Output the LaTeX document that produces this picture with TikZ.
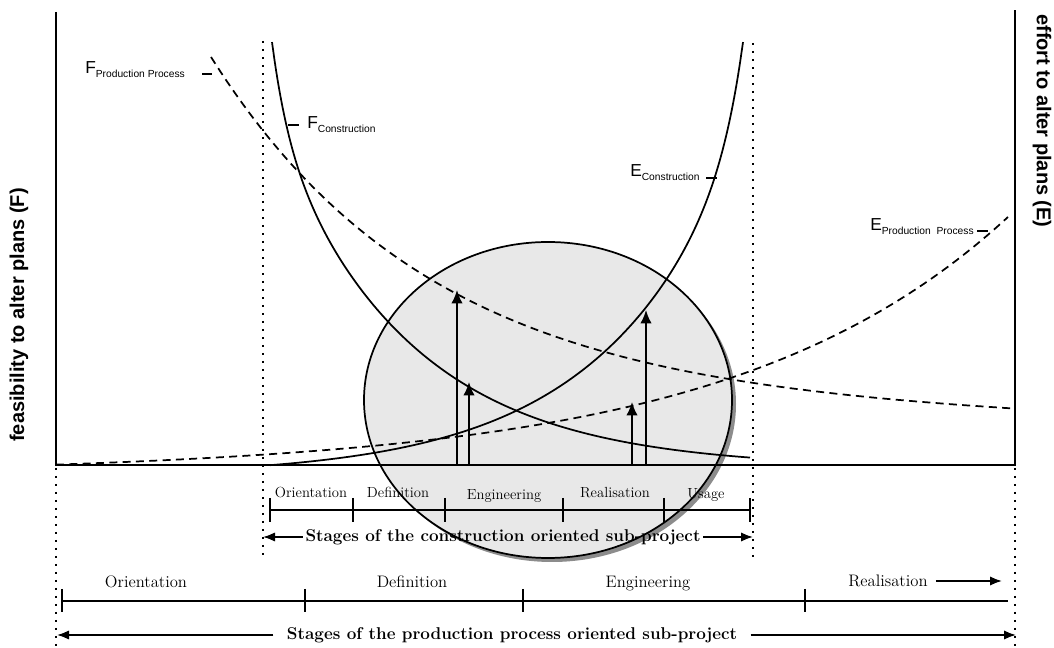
\documentclass[tikz,border=0pt]{standalone}
\usepackage{fontspec}
\newfontfamily\arialfont{Liberation Sans}
\usetikzlibrary{arrows.meta}
\newcommand\curvelabel[2]{{\fontsize{13}{14}\selectfont #1}\raisebox{-2.8pt}{\fontsize{7.7}{9}\selectfont #2}}
\tikzset{
 axisline/.style={line width=1.5pt},
 solidcurve/.style={line width=1.3pt},
 dashcurve/.style={line width=1.3pt, dash pattern=on 6pt off 4pt},
 dotline/.style={line width=1.6pt, dash pattern=on 1.6pt off 4.4pt},
 scaleline/.style={line width=1.5pt},
 tickmark/.style={line width=1.5pt},
 uparrow/.style={line width=1.3pt, -{Latex[length=10pt,width=8.5pt]}},
 stagearrow/.style={line width=1.3pt, -{Latex[length=9pt,width=7pt]}},
 leader/.style={line width=1.3pt},
 cstage/.style={inner sep=0pt, anchor=base, font=\fontsize{11}{13}\selectfont},
 pstage/.style={inner sep=0pt, anchor=base, font=\fontsize{12.5}{14}\selectfont\addfontfeature{LetterSpace=8}},
 btitle/.style={inner sep=2pt, font=\bfseries\fontsize{12.8}{15}\selectfont},
 axlab/.style={inner sep=0pt, font=\arialfont\bfseries\fontsize{15}{17}\selectfont},
 clab/.style={inner sep=0pt, anchor=base west, font=\arialfont},
}
\definecolor{ellfill}{RGB}{232,232,232}
\definecolor{shadowgray}{RGB}{140,140,140}
\begin{document}
\begin{tikzpicture}[x=0.75pt,y=-0.75pt]
\useasboundingbox (0,0) rectangle (1054,648);
% ellipse background
\fill[shadowgray] (552,404) ellipse [x radius=138pt, y radius=118.5pt];
\fill[ellfill] (548,400) ellipse [x radius=138pt, y radius=118.5pt];
% axes
\draw[axisline] (56,12) -- (56,465) -- (1015,465) -- (1015,10);
% dotted lines
\draw[dotline] (263,41) -- (263,560);
\draw[dotline] (753,43) -- (753,560);
\draw[dotline] (56,468) -- (56,648);
\draw[dotline] (1015,468) -- (1015,648);
% curves
\draw[solidcurve] plot[domain=272:750, samples=140, smooth] (\x, {465-(193*exp(-0.0073*(\x-350)) + 85*exp(-0.06*(\x-272)) - 3)});
\draw[solidcurve] plot[domain=270:743, samples=140, smooth] (\x, {465-(193*exp(0.0073*(\x-665)) + 93*exp(0.052*(\x-743)) - 11)});
\draw[dashcurve] plot[domain=211:1013, samples=140, smooth] (\x, {465-(353*exp(-0.0045*(\x-211)) + 55 - 8*((\x-211)/802)^2)});
\draw[dashcurve] plot[domain=56:1008, samples=140, smooth] (\x, {465-(248*exp(0.0037*(\x-1008)) - 7*(1008-\x)/952)});
% vertical arrows
\draw[uparrow] (457,465) -- (457,290);
\draw[uparrow] (469,465) -- (469,382);
\draw[uparrow] (632,465) -- (632,402);
\draw[uparrow] (646,465) -- (646,310);
% curve labels
\node[clab] (lfpp) at (85,73.5) {\curvelabel{F}{Production Process}};
\draw[leader] (202,74) -- (212,74);
\node[clab] (lfc) at (307,129) {\curvelabel{F}{Construction}};
\draw[leader] (288,125) -- (299,125);
\node[clab] (lec) at (630,177) {\curvelabel{E}{Construction}};
\draw[leader] (706,178) -- (717,178);
\node[clab] (lepp) at (870,231) {\curvelabel{E}{Production\ \ Process}};
\draw[leader] (977,231) -- (988,231);
% axis labels
\node[axlab, rotate=90] (fl) at (19,315) {feasibility to alter plans (F)};
\node[axlab, rotate=-90] (el) at (1042,121) {effort to alter plans (E)};
% construction stages
\draw[scaleline] (270,510) -- (750,510);
\foreach \x in {270,353,445,563,664,750} \draw[tickmark] (\x,498) -- (\x,522);
\node[cstage] (co) at (311,498) {Orientation};
\node[cstage] (cd) at (398,498) {Definition};
\node[cstage] (ce) at (504,500) {Engineering};
\node[cstage] (cr) at (615,498) {Realisation};
\node[cstage] (cu) at (706,499) {Usage};
\node[btitle] (ct) at (503,537) {Stages of the construction oriented sub-project};
\coordinate (ctl) at (263,537);
\coordinate (ctr) at (753,537);
\draw[stagearrow] (ct.west) -- (ct.west -| ctl);
\draw[stagearrow] (ct.east) -- (ct.east -| ctr);
% production stages
\draw[scaleline] (62,601) -- (1008,601);
\foreach \x in {62,305,523,805} \draw[tickmark] (\x,589) -- (\x,612);
\node[pstage] (po) at (146,588) {Orientation};
\node[pstage] (pd) at (412,588) {Definition};
\node[pstage] (pe) at (648,588) {Engineering};
\node[pstage] (pr) at (888,587) {Realisation};
\coordinate (prend) at (1002,581);
\draw[stagearrow] ([xshift=6pt]pr.east |- prend) -- (prend);
\node[btitle] (pt) at (512,635) {Stages of the production process oriented sub-project};
\coordinate (ptl) at (57,635);
\coordinate (ptr) at (1016,635);
\draw[stagearrow] ([xshift=-8pt]pt.west) -- (pt.west -| ptl);
\draw[stagearrow] ([xshift=8pt]pt.east) -- (pt.east -| ptr);
% ellipse outline
\draw[line width=1.3pt] (548,400) ellipse [x radius=138pt, y radius=118.5pt];
\end{tikzpicture}
\end{document}
